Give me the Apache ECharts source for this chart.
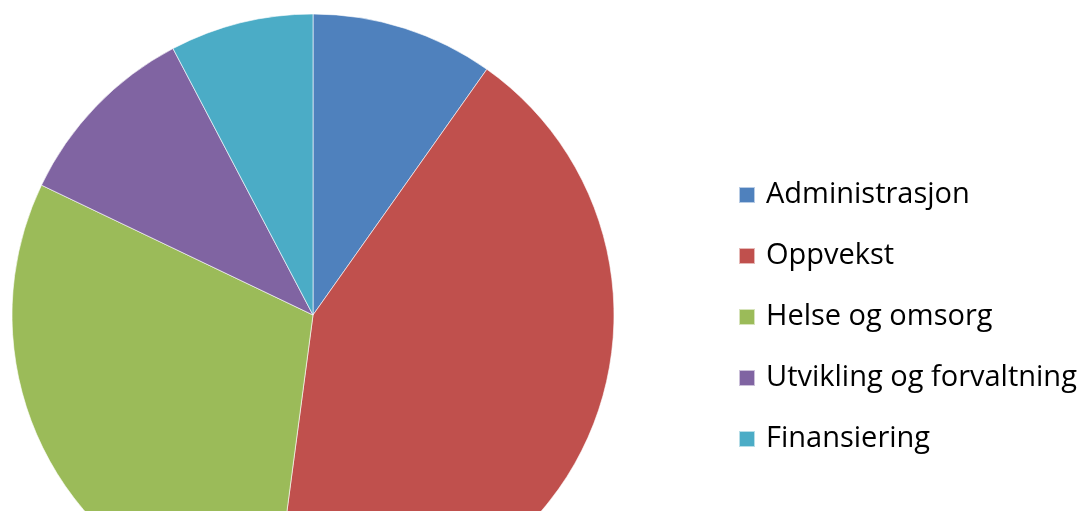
<!DOCTYPE html>
<html>
<head>
<meta charset="utf-8">
<script src="https://cdn.jsdelivr.net/npm/echarts@6/dist/echarts.min.js"></script>
<style>
  html, body { margin: 0; padding: 0; background: #fff; }
  #main { width: 1087px; height: 511px; }
</style>
</head>
<body>
<div id="main"></div>
<script>
// sektorer og andeler (prosent, lest av bildet)
var categories = ['Administrasjon', 'Oppvekst', 'Helse og omsorg', 'Utvikling og forvaltning', 'Finansiering'];
var shares = [9.8, 42.3, 30.0, 10.2, 7.7];
var colors = ['#4F81BD', '#C0504D', '#9BBB59', '#8064A2', '#4BACC6'];

var myChart = echarts.init(document.getElementById('main'));

var pieData = [];
for (var i = 0; i < categories.length; i++) {
	pieData.push({ name: categories[i], value: shares[i] });
}

var option = {
	animation: false,
	color: colors,
	legend: {
		orient: 'vertical',
		left: 738,
		top: 180,
		padding: 0,
		icon: 'rect',
		itemWidth: 16,
		itemHeight: 16,
		itemGap: 31,
		textStyle: {
			fontFamily: 'Open Sans',
			fontSize: 29,
			color: '#000',
			lineHeight: 30,
			padding: [0, 0, 0, 6]
		},
		data: categories
	},
	series: [
		{
			type: 'pie',
			center: [313, 315],
			radius: 301,
			startAngle: 90,
			clockwise: true,
			label: { show: false },
			labelLine: { show: false },
			emphasis: { disabled: true },
			itemStyle: {
				borderColor: 'rgba(255,255,255,0.6)',
				borderWidth: 1
			},
			data: pieData
		}
	]
};
myChart.setOption(option);
</script>
</body>
</html>
